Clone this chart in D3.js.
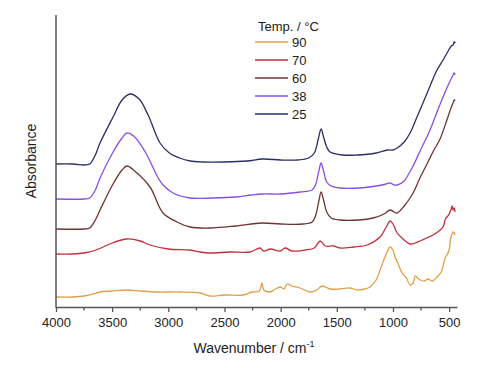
<!DOCTYPE html>
<html><head><meta charset="utf-8">
<script src="https://cdn.jsdelivr.net/npm/d3@7"></script>
<style>body{margin:0;background:#fff}svg{display:block}text{font-family:"Liberation Sans",Arial,sans-serif;fill:#222}</style>
</head><body>
<svg id="c" width="501" height="368"></svg>
<script>
const temps = ["90","70","60","38","25"];
const colors = ["#e0a04a","#c0303f","#6e3434","#8450e6","#2b2e66"];
const xTicks = [4000,3500,3000,2500,2000,1500,1000,500];

const s25 = [[4000,1.43],[3850,1.43],[3750,1.42],[3700,1.43],[3650,1.52],[3608,1.64],[3492,1.90],[3412,2.07],[3341,2.13],[3260,2.08],[3180,1.92],[3074,1.64],[2990,1.54],[2900,1.49],[2807,1.46],[2700,1.45],[2500,1.45],[2300,1.46],[2160,1.48],[2000,1.47],[1850,1.47],[1750,1.49],[1700,1.54],[1665,1.68],[1640,1.78],[1618,1.70],[1590,1.60],[1560,1.55],[1450,1.52],[1320,1.52],[1150,1.54],[1050,1.57],[1000,1.57],[963,1.59],[900,1.65],[848,1.74],[790,1.89],[733,2.04],[670,2.21],[608,2.37],[554,2.47],[519,2.54],[480,2.61],[465,2.62],[455,2.65],[445,2.64]];
const s38 = [[4000,1.08],[3750,1.08],[3700,1.09],[3650,1.17],[3608,1.29],[3492,1.55],[3412,1.69],[3368,1.74],[3300,1.70],[3200,1.54],[3100,1.31],[3047,1.22],[2958,1.14],[2807,1.09],[2600,1.09],[2400,1.10],[2261,1.12],[2160,1.13],[2000,1.13],[1827,1.15],[1720,1.17],[1690,1.22],[1660,1.36],[1640,1.44],[1618,1.36],[1590,1.25],[1550,1.21],[1471,1.19],[1300,1.19],[1150,1.21],[1060,1.23],[1026,1.24],[990,1.22],[963,1.22],[900,1.26],[860,1.33],[821,1.41],[750,1.58],[670,1.77],[608,1.95],[554,2.10],[500,2.24],[465,2.32],[455,2.34],[447,2.32]];
const s60 = [[4000,0.78],[3750,0.78],[3700,0.79],[3650,0.87],[3608,0.97],[3492,1.23],[3412,1.37],[3368,1.41],[3300,1.36],[3163,1.20],[3047,0.94],[2923,0.85],[2807,0.80],[2629,0.79],[2400,0.81],[2166,0.84],[2000,0.83],[1800,0.83],[1720,0.85],[1690,0.91],[1660,1.06],[1640,1.15],[1618,1.07],[1590,0.95],[1550,0.89],[1471,0.87],[1300,0.87],[1177,0.89],[1080,0.93],[1026,0.97],[990,0.95],[963,0.94],[900,1.01],[860,1.07],[821,1.14],[760,1.29],[697,1.43],[640,1.56],[581,1.68],[520,1.87],[480,2.00],[465,2.04],[455,2.07],[447,2.06]];
const s70 = [[4000,0.53],[3850,0.53],[3750,0.54],[3670,0.56],[3600,0.59],[3500,0.64],[3368,0.68],[3250,0.66],[3163,0.62],[3000,0.58],[2807,0.57],[2718,0.55],[2629,0.54],[2450,0.55],[2272,0.55],[2184,0.59],[2150,0.56],[2090,0.58],[2005,0.56],[1960,0.59],[1900,0.56],[1783,0.57],[1700,0.59],[1649,0.66],[1600,0.61],[1530,0.61],[1471,0.59],[1350,0.60],[1230,0.62],[1115,0.70],[1060,0.80],[1026,0.86],[1000,0.83],[963,0.74],[910,0.68],[848,0.63],[800,0.64],[759,0.66],[700,0.69],[643,0.72],[580,0.77],[554,0.80],[530,0.89],[519,0.90],[500,0.93],[485,0.97],[474,1.01],[465,0.97],[455,0.99],[448,0.95]];
const s90 = [[4000,0.10],[3850,0.10],[3750,0.11],[3670,0.13],[3608,0.15],[3500,0.16],[3368,0.17],[3250,0.16],[3100,0.15],[2900,0.15],[2718,0.14],[2629,0.11],[2500,0.12],[2335,0.12],[2255,0.15],[2190,0.16],[2166,0.24],[2150,0.17],[2100,0.15],[2060,0.17],[2005,0.20],[1970,0.18],[1943,0.23],[1900,0.21],[1827,0.19],[1738,0.15],[1680,0.17],[1631,0.21],[1560,0.18],[1471,0.18],[1382,0.19],[1321,0.17],[1250,0.18],[1204,0.20],[1150,0.27],[1115,0.37],[1060,0.53],[1026,0.60],[1000,0.57],[981,0.50],[950,0.42],[919,0.34],[880,0.29],[848,0.22],[820,0.24],[803,0.31],[780,0.29],[759,0.27],[720,0.26],[688,0.28],[650,0.26],[608,0.30],[570,0.35],[536,0.49],[519,0.52],[500,0.57],[485,0.69],[465,0.75],[455,0.74],[448,0.72]];
const series = [s90, s70, s60, s38, s25];

const svg = d3.select("#c");
const x = d3.scaleLinear().domain([4000, 430]).range([56, 457]);
const y = d3.scaleLinear().domain([0, 2.92]).range([307, 15]);

const line = d3.line().x(d => x(d[0])).y(d => y(d[1])).curve(d3.curveCatmullRom.alpha(0.5));
series.forEach((s, i) => {
  svg.append("path").attr("d", line(s)).attr("fill", "none")
    .attr("stroke", colors[i]).attr("stroke-width", 1.3).attr("stroke-linejoin","round");
});

// axes
const ax = d3.axisBottom(x).tickValues(xTicks).tickSize(5).tickSizeOuter(0).tickFormat(d3.format("d"));
const gx = svg.append("g").attr("transform", "translate(0,307)").call(ax);
gx.select(".domain").attr("stroke", "#555").attr("stroke-width", 1.5);
gx.selectAll(".tick line").attr("stroke", "#555").attr("stroke-width", 1.3);
gx.selectAll(".tick text").attr("font-size", 13).attr("font-family", "Liberation Sans, Arial, sans-serif").attr("fill", "#222").attr("dy", "0.9em");
const minor = d3.range(3750, 400, -500);
svg.append("g").selectAll("line").data(minor).join("line")
  .attr("x1", d => x(d)).attr("x2", d => x(d)).attr("y1", 307).attr("y2", 310.5)
  .attr("stroke", "#555").attr("stroke-width", 1.3);
svg.append("line").attr("x1", 56).attr("x2", 56).attr("y1", 15).attr("y2", 307.7)
  .attr("stroke", "#555").attr("stroke-width", 1.5);

// labels
const xl = svg.append("text").attr("x", 254).attr("y", 353).attr("text-anchor", "middle").attr("font-size", 14);
xl.append("tspan").text("Wavenumber / cm");
xl.append("tspan").attr("font-size", 9).attr("dy", -6).text("-1");
svg.append("text").attr("transform", "translate(36,161) rotate(-90)").attr("text-anchor", "middle")
  .attr("font-size", 14).text("Absorbance");

// legend
svg.append("text").attr("x", 258).attr("y", 31).attr("font-size", 13).text("Temp. / °C");
const lg = svg.append("g").selectAll("g").data(temps).join("g")
  .attr("transform", (d, i) => `translate(0,${42 + i * 18})`);
lg.append("line").attr("x1", 255).attr("x2", 288).attr("stroke", (d, i) => colors[i]).attr("stroke-width", 1.3);
lg.append("text").attr("x", 292).attr("y", 5).attr("font-size", 13).text(d => d);
</script>
</body></html>
